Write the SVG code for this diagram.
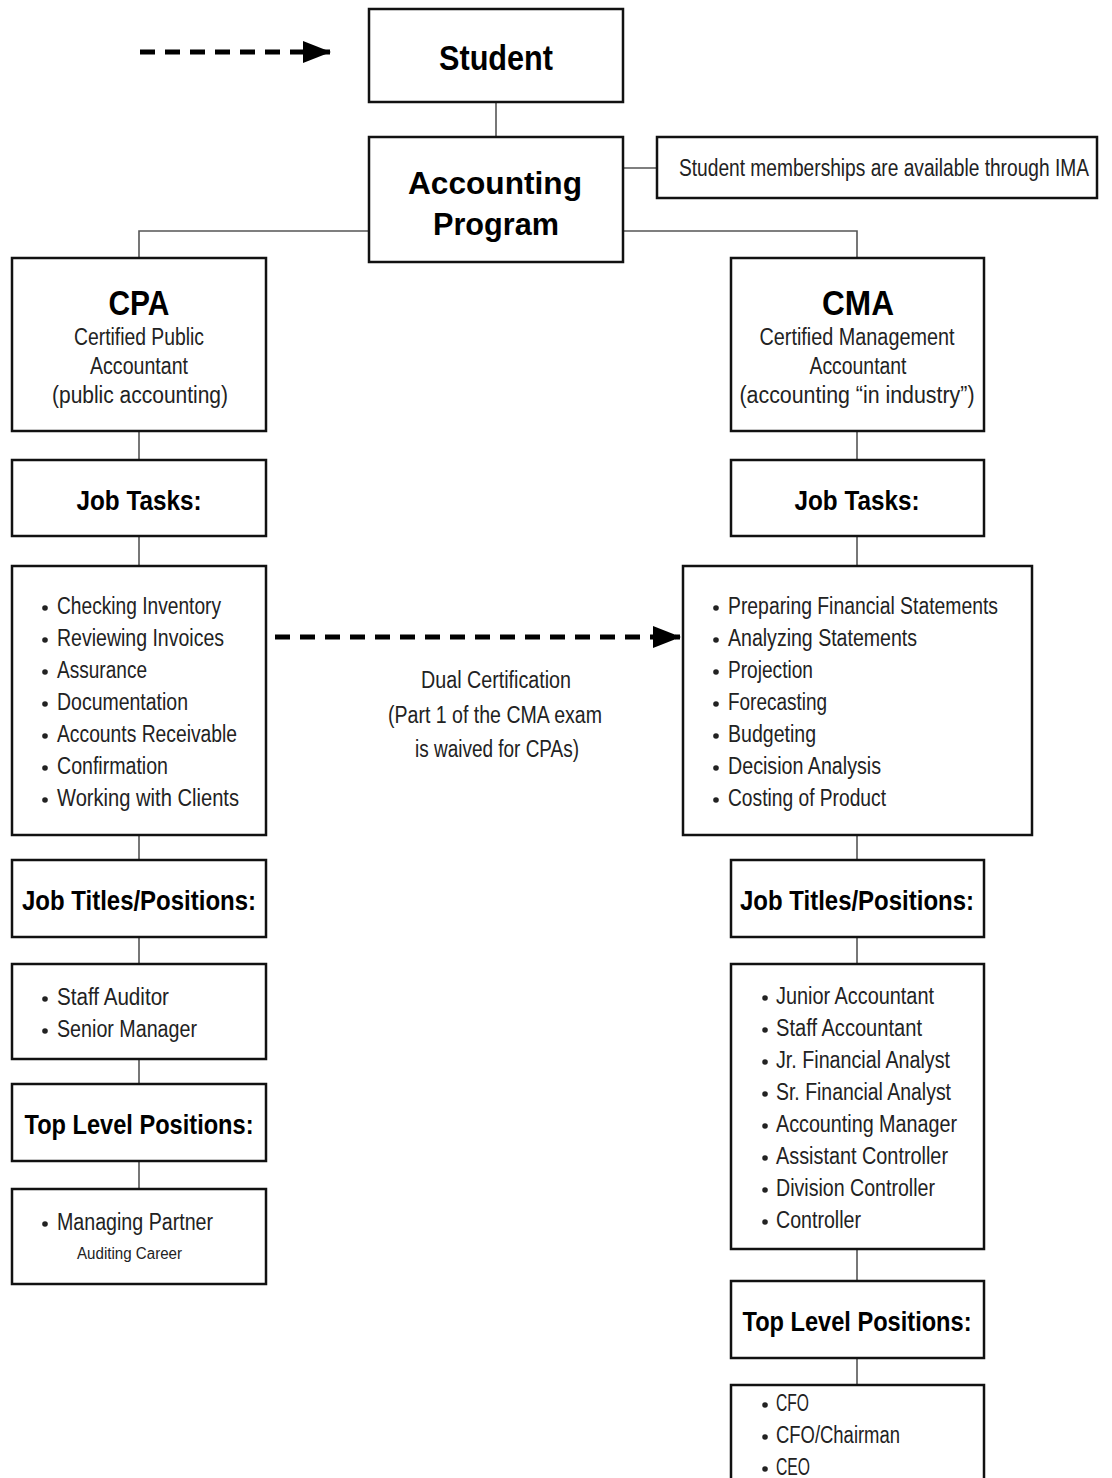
<svg xmlns="http://www.w3.org/2000/svg" width="1112" height="1478" viewBox="0 0 1112 1478">
<defs>
<marker id="arrow" markerUnits="userSpaceOnUse" markerWidth="28" markerHeight="22" refX="27" refY="11" orient="auto">
<polygon points="0,0 28,11 0,22" fill="#000"/>
</marker>
<style>
.box{fill:#fff;stroke:#111;stroke-width:2.5}
.conn{fill:none;stroke:#555;stroke-width:1.6}
.dash{fill:none;stroke:#000;stroke-width:5;stroke-dasharray:15 10}
.dot{fill:#222}
text{font-family:"Liberation Sans",Arial,sans-serif;fill:#222}
.big{font-size:35px;font-weight:bold;fill:#000;text-anchor:middle}
.big2{font-size:31px;font-weight:bold;fill:#000;text-anchor:middle}
.hd{font-size:35px;font-weight:bold;fill:#000;text-anchor:middle}
.ttl{font-size:28px;font-weight:bold;fill:#000;text-anchor:middle}
.sub{font-size:23px;text-anchor:middle}
.li{font-size:23px}
.sm{font-size:16px}
.mid{text-anchor:middle}
</style>
</defs>
<rect width="1112" height="1478" fill="#fff"/>
<g id="connectors">
<line class="conn" x1="496" y1="102" x2="496" y2="137"/>
<line class="conn" x1="623" y1="168" x2="657" y2="168"/>
<polyline class="conn" points="369,231 139,231 139,258"/>
<polyline class="conn" points="623,231 857,231 857,258"/>
<line class="conn" x1="139" y1="431" x2="139" y2="460"/>
<line class="conn" x1="139" y1="536" x2="139" y2="566"/>
<line class="conn" x1="139" y1="835" x2="139" y2="860"/>
<line class="conn" x1="139" y1="937" x2="139" y2="964"/>
<line class="conn" x1="139" y1="1059" x2="139" y2="1084"/>
<line class="conn" x1="139" y1="1161" x2="139" y2="1189"/>
<line class="conn" x1="857" y1="431" x2="857" y2="460"/>
<line class="conn" x1="857" y1="536" x2="857" y2="566"/>
<line class="conn" x1="857" y1="835" x2="857" y2="860"/>
<line class="conn" x1="857" y1="937" x2="857" y2="964"/>
<line class="conn" x1="857" y1="1249" x2="857" y2="1281"/>
<line class="conn" x1="857" y1="1358" x2="857" y2="1385"/>
<line class="dash" x1="140" y1="52" x2="330" y2="52" marker-end="url(#arrow)"/>
<line class="dash" x1="275" y1="637" x2="680" y2="637" marker-end="url(#arrow)"/>
</g>
<g id="student">
<rect class="box" x="369" y="9" width="254" height="93"/>
<text class="big" x="496" y="70" textLength="114" lengthAdjust="spacingAndGlyphs">Student</text>
</g>
<g id="accounting-program">
<rect class="box" x="369" y="137" width="254" height="125"/>
<text class="big2" x="495" y="194" textLength="174" lengthAdjust="spacingAndGlyphs">Accounting</text>
<text class="big2" x="496" y="235" textLength="126" lengthAdjust="spacingAndGlyphs">Program</text>
</g>
<g id="ima-note">
<rect class="box" x="657" y="137" width="440" height="61"/>
<text class="li mid" x="884" y="176" font-size="22" textLength="410" lengthAdjust="spacingAndGlyphs">Student memberships are available through IMA</text>
</g>
<g id="cpa">
<rect class="box" x="12" y="258" width="254" height="173"/>
<text class="hd" x="139" y="315" textLength="61" lengthAdjust="spacingAndGlyphs">CPA</text>
<text class="sub" x="139" y="345" textLength="130" lengthAdjust="spacingAndGlyphs">Certified Public</text>
<text class="sub" x="139" y="374" textLength="98" lengthAdjust="spacingAndGlyphs">Accountant</text>
<text class="sub" x="140" y="403" textLength="176" lengthAdjust="spacingAndGlyphs">(public accounting)</text>
</g>
<g id="cma">
<rect class="box" x="731" y="258" width="253" height="173"/>
<text class="hd" x="858" y="315" textLength="72" lengthAdjust="spacingAndGlyphs">CMA</text>
<text class="sub" x="857" y="345" textLength="195" lengthAdjust="spacingAndGlyphs">Certified Management</text>
<text class="sub" x="858" y="374" textLength="97" lengthAdjust="spacingAndGlyphs">Accountant</text>
<text class="sub" x="857" y="403" textLength="235" lengthAdjust="spacingAndGlyphs">(accounting “in industry”)</text>
</g>
<g id="cpa-job-tasks">
<rect class="box" x="12" y="460" width="254" height="76"/>
<text class="ttl" x="139" y="510" textLength="125" lengthAdjust="spacingAndGlyphs">Job Tasks:</text>
</g>
<g id="cma-job-tasks">
<rect class="box" x="731" y="460" width="253" height="76"/>
<text class="ttl" x="857" y="510" textLength="125" lengthAdjust="spacingAndGlyphs">Job Tasks:</text>
</g>
<g id="cpa-tasks-list">
<rect class="box" x="12" y="566" width="254" height="269"/>
<circle class="dot" cx="45" cy="608" r="2.8"/>
<circle class="dot" cx="45" cy="640" r="2.8"/>
<circle class="dot" cx="45" cy="672" r="2.8"/>
<circle class="dot" cx="45" cy="704" r="2.8"/>
<circle class="dot" cx="45" cy="736" r="2.8"/>
<circle class="dot" cx="45" cy="768" r="2.8"/>
<circle class="dot" cx="45" cy="800" r="2.8"/>
<text class="li" x="57" y="614" textLength="164" lengthAdjust="spacingAndGlyphs">Checking Inventory</text>
<text class="li" x="57" y="646" textLength="167" lengthAdjust="spacingAndGlyphs">Reviewing Invoices</text>
<text class="li" x="57" y="678" textLength="90" lengthAdjust="spacingAndGlyphs">Assurance</text>
<text class="li" x="57" y="710" textLength="131" lengthAdjust="spacingAndGlyphs">Documentation</text>
<text class="li" x="57" y="742" textLength="180" lengthAdjust="spacingAndGlyphs">Accounts Receivable</text>
<text class="li" x="57" y="774" textLength="111" lengthAdjust="spacingAndGlyphs">Confirmation</text>
<text class="li" x="57" y="806" textLength="182" lengthAdjust="spacingAndGlyphs">Working with Clients</text>
</g>
<g id="dual-certification">
<text class="li mid" x="496" y="688" font-size="22" textLength="150" lengthAdjust="spacingAndGlyphs">Dual Certification</text>
<text class="li mid" x="495" y="723" font-size="22" textLength="214" lengthAdjust="spacingAndGlyphs">(Part 1 of the CMA exam</text>
<text class="li mid" x="497" y="757" font-size="22" textLength="164" lengthAdjust="spacingAndGlyphs">is waived for CPAs)</text>
</g>
<g id="cma-tasks-list">
<rect class="box" x="683" y="566" width="349" height="269"/>
<circle class="dot" cx="716" cy="608" r="2.8"/>
<circle class="dot" cx="716" cy="640" r="2.8"/>
<circle class="dot" cx="716" cy="672" r="2.8"/>
<circle class="dot" cx="716" cy="704" r="2.8"/>
<circle class="dot" cx="716" cy="736" r="2.8"/>
<circle class="dot" cx="716" cy="768" r="2.8"/>
<circle class="dot" cx="716" cy="800" r="2.8"/>
<text class="li" x="728" y="614" textLength="270" lengthAdjust="spacingAndGlyphs">Preparing Financial Statements</text>
<text class="li" x="728" y="646" textLength="189" lengthAdjust="spacingAndGlyphs">Analyzing Statements</text>
<text class="li" x="728" y="678" textLength="85" lengthAdjust="spacingAndGlyphs">Projection</text>
<text class="li" x="728" y="710" textLength="99" lengthAdjust="spacingAndGlyphs">Forecasting</text>
<text class="li" x="728" y="742" textLength="88" lengthAdjust="spacingAndGlyphs">Budgeting</text>
<text class="li" x="728" y="774" textLength="153" lengthAdjust="spacingAndGlyphs">Decision Analysis</text>
<text class="li" x="728" y="806" textLength="158" lengthAdjust="spacingAndGlyphs">Costing of Product</text>
</g>
<g id="cpa-job-titles">
<rect class="box" x="12" y="860" width="254" height="77"/>
<text class="ttl" x="139" y="910" textLength="234" lengthAdjust="spacingAndGlyphs">Job Titles/Positions:</text>
</g>
<g id="cma-job-titles">
<rect class="box" x="731" y="860" width="253" height="77"/>
<text class="ttl" x="857" y="910" textLength="234" lengthAdjust="spacingAndGlyphs">Job Titles/Positions:</text>
</g>
<g id="cpa-titles-list">
<rect class="box" x="12" y="964" width="254" height="95"/>
<circle class="dot" cx="45" cy="999" r="2.8"/>
<circle class="dot" cx="45" cy="1031" r="2.8"/>
<text class="li" x="57" y="1005" textLength="112" lengthAdjust="spacingAndGlyphs">Staff Auditor</text>
<text class="li" x="57" y="1037" textLength="140" lengthAdjust="spacingAndGlyphs">Senior Manager</text>
</g>
<g id="cma-titles-list">
<rect class="box" x="731" y="964" width="253" height="285"/>
<circle class="dot" cx="765" cy="998" r="2.8"/>
<circle class="dot" cx="765" cy="1030" r="2.8"/>
<circle class="dot" cx="765" cy="1062" r="2.8"/>
<circle class="dot" cx="765" cy="1094" r="2.8"/>
<circle class="dot" cx="765" cy="1126" r="2.8"/>
<circle class="dot" cx="765" cy="1158" r="2.8"/>
<circle class="dot" cx="765" cy="1190" r="2.8"/>
<circle class="dot" cx="765" cy="1222" r="2.8"/>
<text class="li" x="776" y="1004" textLength="158" lengthAdjust="spacingAndGlyphs">Junior Accountant</text>
<text class="li" x="776" y="1036" textLength="146" lengthAdjust="spacingAndGlyphs">Staff Accountant</text>
<text class="li" x="776" y="1068" textLength="174" lengthAdjust="spacingAndGlyphs">Jr. Financial Analyst</text>
<text class="li" x="776" y="1100" textLength="175" lengthAdjust="spacingAndGlyphs">Sr. Financial Analyst</text>
<text class="li" x="776" y="1132" textLength="181" lengthAdjust="spacingAndGlyphs">Accounting Manager</text>
<text class="li" x="776" y="1164" textLength="172" lengthAdjust="spacingAndGlyphs">Assistant Controller</text>
<text class="li" x="776" y="1196" textLength="159" lengthAdjust="spacingAndGlyphs">Division Controller</text>
<text class="li" x="776" y="1228" textLength="85" lengthAdjust="spacingAndGlyphs">Controller</text>
</g>
<g id="cpa-top-level">
<rect class="box" x="12" y="1084" width="254" height="77"/>
<text class="ttl" x="139" y="1134" textLength="229" lengthAdjust="spacingAndGlyphs">Top Level Positions:</text>
</g>
<g id="cpa-top-list">
<rect class="box" x="12" y="1189" width="254" height="95"/>
<circle class="dot" cx="45" cy="1224" r="2.8"/>
<text class="li" x="57" y="1230" textLength="156" lengthAdjust="spacingAndGlyphs">Managing Partner</text>
<text class="sm" x="77" y="1259" textLength="105" lengthAdjust="spacingAndGlyphs">Auditing Career</text>
</g>
<g id="cma-top-level">
<rect class="box" x="731" y="1281" width="253" height="77"/>
<text class="ttl" x="857" y="1331" textLength="229" lengthAdjust="spacingAndGlyphs">Top Level Positions:</text>
</g>
<g id="cma-top-list">
<rect class="box" x="731" y="1385" width="253" height="110"/>
<circle class="dot" cx="765" cy="1405" r="2.8"/>
<circle class="dot" cx="765" cy="1437" r="2.8"/>
<circle class="dot" cx="765" cy="1469" r="2.8"/>
<text class="li" x="776" y="1411" textLength="33" lengthAdjust="spacingAndGlyphs">CFO</text>
<text class="li" x="776" y="1443" textLength="124" lengthAdjust="spacingAndGlyphs">CFO/Chairman</text>
<text class="li" x="776" y="1475" textLength="34" lengthAdjust="spacingAndGlyphs">CEO</text>
</g>
</svg>
